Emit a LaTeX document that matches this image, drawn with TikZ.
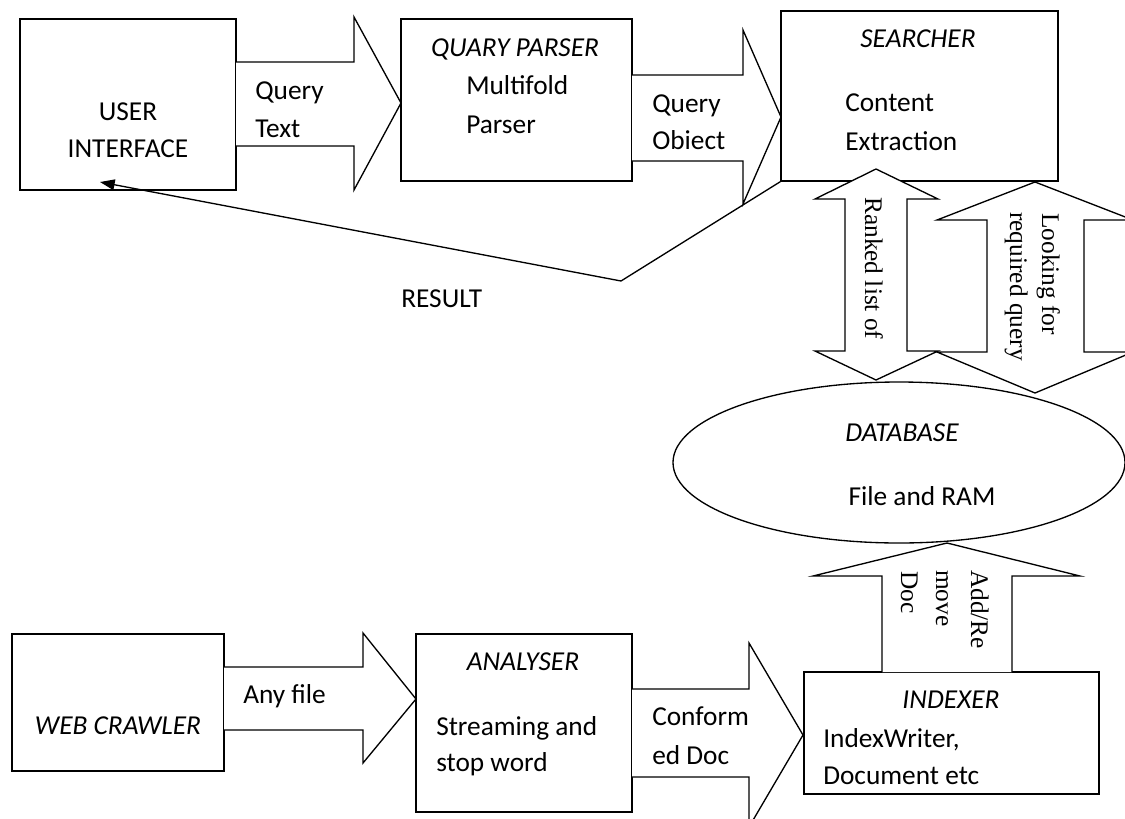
\documentclass[tikz,border=0pt]{standalone}
\usepackage{fontspec}
\setmainfont{Carlito}
\newfontfamily\tnr{Liberation Serif}
\usetikzlibrary{arrows.meta,fit,shapes.geometric}
\tikzset{
  box/.style={draw, line width=1pt, inner sep=0pt, fill=white},
  blk/.style={draw, line width=1pt, fill=white, line join=miter},
  txt/.style={inner sep=0pt, font=\fontsize{20.5pt}{24pt}\selectfont},
  rtxt/.style={inner sep=0pt, rotate=-90, anchor=base west, font=\tnr\fontsize{19pt}{23pt}\selectfont},
  link/.style={draw, line width=1pt, -{Triangle[length=11pt,width=8pt]}}
}
\begin{document}
\begin{tikzpicture}[x=0.75pt,y=-0.75pt]
\useasboundingbox (0,0) rectangle (1125,818);
\clip (0,0) rectangle (1125,818);
% boxes
\node[box, fit={(20,19) (236,190)}] (ui) {};
\node[box, fit={(401,19) (632,181)}] (qp) {};
\node[box, fit={(781,11) (1058,181)}] (srch) {};
\node[box, fit={(12,634) (224,771)}] (wc) {};
\node[box, fit={(416,634) (632,812)}] (an) {};
\node[box, fit={(804,672) (1099,794)}] (ix) {};
\node[draw, line width=1pt, ellipse, inner sep=0pt, minimum width=339pt, minimum height=120.75pt] (db) at (899,462.5) {};
% block arrows
\draw[blk] (236,62) -- (354,62) -- (354,17) -- (401,103) -- (354,190) -- (354,146) -- (236,146);
\draw[blk] (632,75) -- (743,75) -- (743,30) -- (781,117) -- (743,204) -- (743,161) -- (632,161);
\draw[blk] (224,667) -- (363,667) -- (363,633) -- (416,699) -- (363,763) -- (363,730) -- (224,730);
\draw[blk] (632,689) -- (749,689) -- (749,643) -- (803,735) -- (749,827) -- (749,777) -- (632,777);
\draw[blk] (876,169) -- (938,199) -- (907,199) -- (907,351) -- (938,351) -- (876,380) -- (815,351) -- (845,351) -- (845,199) -- (815,199) -- cycle;
\draw[blk] (1035,182) -- (1133,220) -- (1084,220) -- (1084,352) -- (1133,352) -- (1035,393) -- (937,352) -- (987,352) -- (987,220) -- (937,220) -- cycle;
\draw[blk] (882,672) -- (882,576) -- (813,576) -- (947,543) -- (1080,576) -- (1012,576) -- (1012,672);
% result connector
\coordinate (bend) at (621,281);
\coordinate (uiin) at (100,182);
\draw[link] (srch.south west) -- (bend) -- (uiin);
% texts
\node[txt, anchor=base] (t1) at (128,120) {USER};
\node[txt, anchor=base] (t2) at (128,157) {INTERFACE};
\node[txt, anchor=base west] (t3) at (255,99) {Query};
\node[txt, anchor=base west] (t4) at (255,137) {Text};
\node[txt, anchor=base] (t5) at (515,56) {\itshape QUARY PARSER};
\node[txt, anchor=base west] (t6) at (466,94) {Multifold};
\node[txt, anchor=base west] (t7) at (466,133) {Parser};
\node[txt, anchor=base west] (t8) at (652,112) {Query};
\node[txt, anchor=base west] (t9) at (652,149) {Obiect};
\node[txt, anchor=base] (t10) at (918,47) {\itshape SEARCHER};
\node[txt, anchor=base west] (t11) at (845,111) {Content};
\node[txt, anchor=base west] (t12) at (845,150) {Extraction};
\node[txt, anchor=base west] (t13) at (401,307) {RESULT};
\node[txt, anchor=base] (t14) at (902,441) {\itshape DATABASE};
\node[txt, anchor=base] (t15) at (922,505) {File and RAM};
\node[txt, anchor=base] (t16) at (951,708) {\itshape INDEXER};
\node[txt, anchor=base west] (t17) at (823,747) {IndexWriter,};
\node[txt, anchor=base west] (t18) at (823,784) {Document etc};
\node[txt, anchor=base west] (t19) at (243,703) {Any file};
\node[txt, anchor=base] (t20) at (118,734) {\itshape WEB CRAWLER};
\node[txt, anchor=base] (t21) at (523,670) {\itshape ANALYSER};
\node[txt, anchor=base west] (t22) at (436,735) {Streaming and};
\node[txt, anchor=base west] (t23) at (436,771) {stop word};
\node[txt, anchor=base west] (t24) at (652,725) {Conform};
\node[txt, anchor=base west] (t25) at (652,764) {ed Doc};
% rotated texts
\node[rtxt] (r1) at (865,197) {Ranked list of};
\node[rtxt] (r2) at (1042,213) {Looking for};
\node[rtxt] (r3) at (1010,212) {required query};
\node[rtxt] (r4) at (971,570) {Add/Re};
\node[rtxt] (r5) at (936,570) {move};
\node[rtxt] (r6) at (901,571) {Doc};
\end{tikzpicture}
\end{document}
